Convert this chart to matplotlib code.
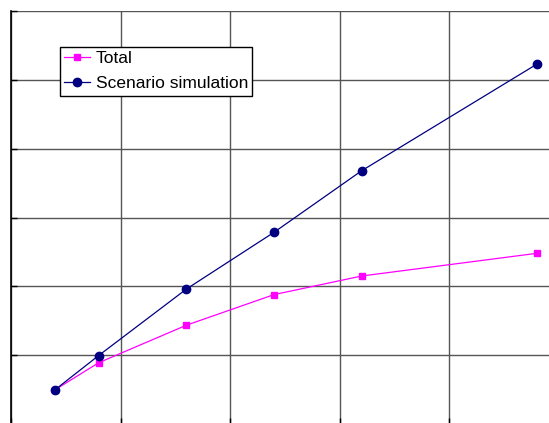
import matplotlib
matplotlib.use("Agg")
import matplotlib.pyplot as plt

# данные
x_vals = [10, 20, 40, 60, 80, 120]
total = [9.9, 17.8, 28.7, 37.6, 43.0, 49.6]
scenario = [9.9, 19.9, 39.2, 55.7, 73.6, 104.6]
labels = ["Total", "Scenario simulation"]

W, H = 549, 423
fig = plt.figure(figsize=(W / 100, H / 100), dpi=100)
# оси выходят за правый и нижний край картинки
ax = fig.add_axes([11 / W, -1 / H, 548 / W, 413 / H])

ax.plot(x_vals, total, color="#FF00FF", linewidth=0.9, marker="s",
        markersize=5, label=labels[0], zorder=3)
ax.plot(x_vals, scenario, color="#000080", linewidth=0.9, marker="o",
        markersize=6, label=labels[1], zorder=4)

ax.set_xlim(0, 125)
ax.set_ylim(0, 120)
ax.set_xticks(range(0, 126, 25))
ax.set_yticks(range(0, 121, 20))
ax.set_xticklabels([])
ax.set_yticklabels([])
ax.grid(True, color="#555555", linewidth=1)
ax.tick_params(direction="in", length=4.5, width=1, color="black")

ax.spines["top"].set_visible(False)
ax.spines["right"].set_visible(False)
ax.spines["left"].set_color("black")
ax.spines["left"].set_linewidth(1.2)

leg = ax.legend(loc="upper left", bbox_to_anchor=(60 / W, 1 - 47 / H),
                bbox_transform=fig.transFigure, fancybox=False,
                edgecolor="black", framealpha=1,
                prop={"family": "Liberation Sans", "size": 12.5},
                handlelength=1.5, handletextpad=0.3, borderpad=0.25,
                labelspacing=0.55, borderaxespad=0)
leg.get_frame().set_linewidth(1)

fig.savefig("out.png", dpi=100)
